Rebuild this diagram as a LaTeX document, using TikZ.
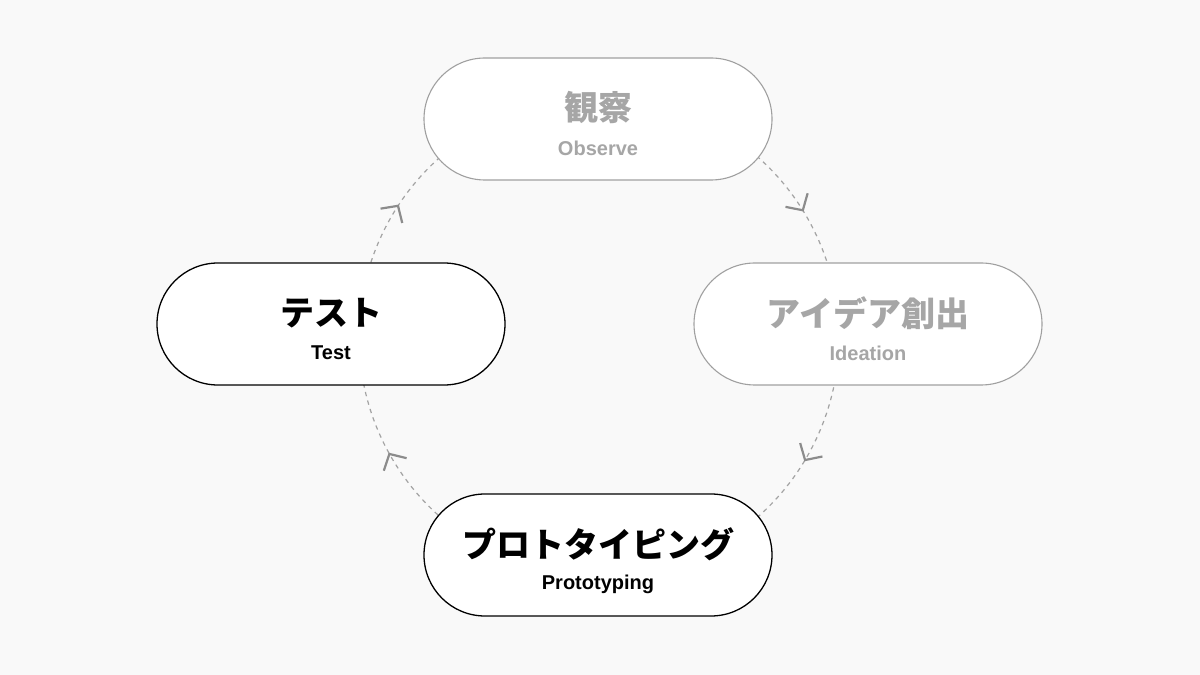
\documentclass[tikz,border=0pt]{standalone}
\usepackage{fontspec}
\setmainfont{Liberation Sans}
\newfontfamily\cjk{Noto Sans CJK JP}
\usetikzlibrary{shapes.misc,arrows.meta,decorations.markings}
\definecolor{bgc}{HTML}{F9F9F9}
\definecolor{dimc}{HTML}{A6A6A6}
\definecolor{dimb}{HTML}{A0A0A0}
\definecolor{arrc}{HTML}{8C8C8C}
\tikzset{
  pill/.style={rounded rectangle, fill=white, minimum width=174pt, minimum height=61pt, inner sep=0pt},
  pilldim/.style={pill, draw=dimb, line width=0.55pt},
  pillact/.style={pill, draw=black, line width=0.65pt},
  jp/.style={font=\cjk\bfseries\fontsize{17pt}{20pt}\selectfont, inner sep=0pt, anchor=center},
  en/.style={font=\bfseries\fontsize{10pt}{12pt}\selectfont, inner sep=0pt, anchor=center},
  flow/.style={draw=arrc!80, line width=0.6pt, dash pattern=on 2.2pt off 2.2pt,
    postaction={decorate}, decoration={markings, mark=at position 0.53 with {\arrow[solid, draw=arrc, line width=1.1pt]{Straight Barb[length=6pt,width=13pt]}}}}
}
\begin{document}
\begin{tikzpicture}[x=0.5pt,y=0.5pt]
\fill[bgc] (0,0) rectangle (1200,675);
\useasboundingbox (0,0) rectangle (1200,675);
\coordinate (c) at (599,338);
% cycle arcs
\draw[flow] (c) ++(49:240) arc[start angle=49, end angle=16, radius=240];
\draw[flow] (c) ++(-10:240) arc[start angle=-10, end angle=-50, radius=240];
\draw[flow] (c) ++(-130:240) arc[start angle=-130, end angle=-170, radius=240];
\draw[flow] (c) ++(164:240) arc[start angle=164, end angle=131, radius=240];
% nodes
\node[pilldim] (obs) at (598,556) {};
\node[pilldim] (ide) at (868,351) {};
\node[pillact] (tst) at (331,351) {};
\node[pillact] (pro) at (598,120) {};
\node[jp, text=dimc] (obsj) at ([yshift=5.5pt]obs.center) {観察};
\node[en, text=dimc] (obse) at ([yshift=-14.5pt]obs.center) {Observe};
\node[jp, text=dimc] (idej) at ([yshift=5.5pt]ide.center) {アイデア創出};
\node[en, text=dimc] (idee) at ([yshift=-14.5pt]ide.center) {Ideation};
\node[jp, text=black] (tstj) at ([yshift=5.5pt]tst.center) {テスト};
\node[en, text=black] (tste) at ([yshift=-14.5pt]tst.center) {Test};
\node[jp, text=black] (proj) at ([yshift=5.5pt]pro.center) {プロトタイピング};
\node[en, text=black] (proe) at ([yshift=-14.5pt]pro.center) {Prototyping};
\end{tikzpicture}
\end{document}
